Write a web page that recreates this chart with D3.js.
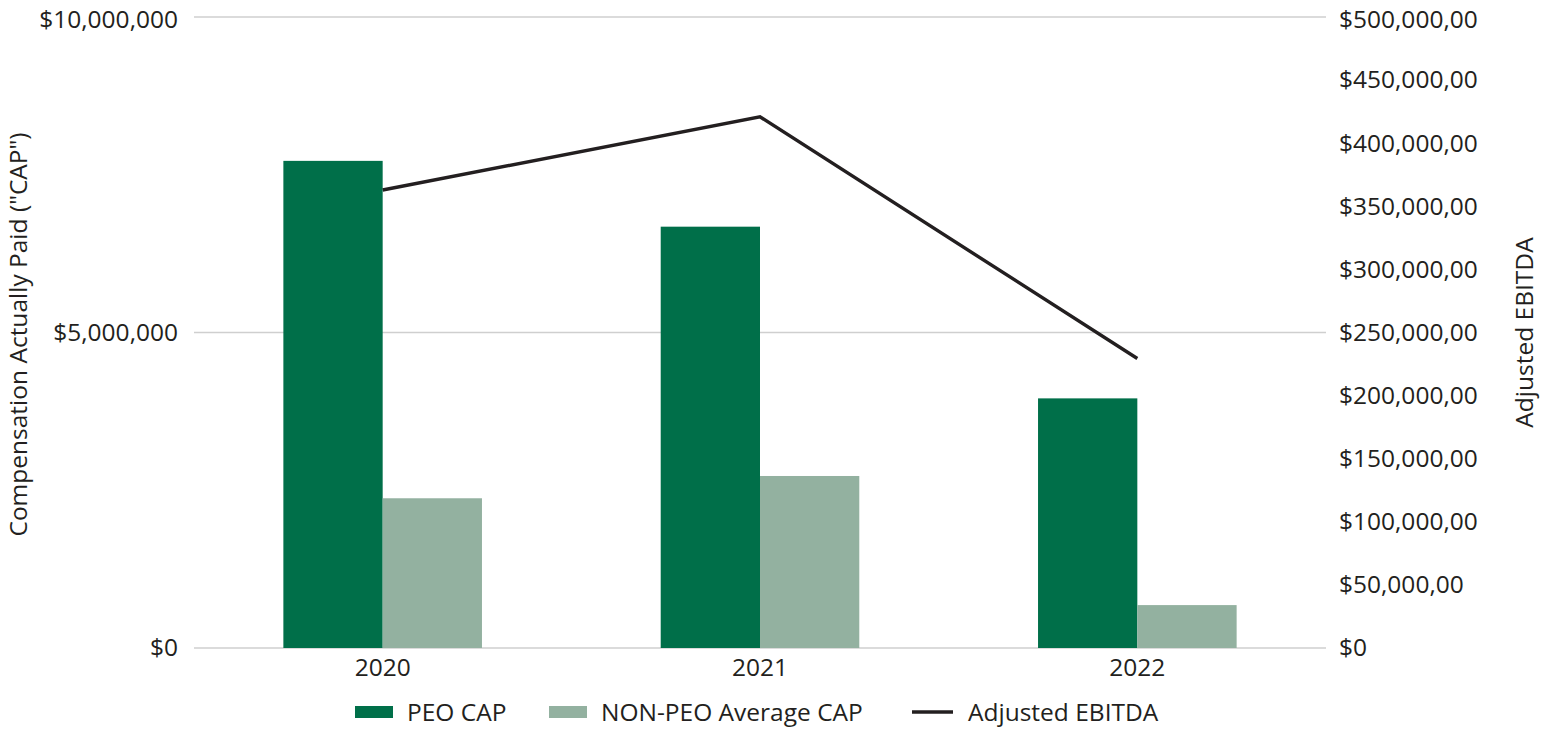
<!DOCTYPE html>
<html><head><meta charset="utf-8">
<script src="https://cdn.jsdelivr.net/npm/d3@7"></script>
<style>
html,body{margin:0;padding:0;background:#fff;}
text{font-family:"Open Sans",sans-serif;fill:#231f20;}
</style></head>
<body><svg id="c" width="1542" height="729"></svg>
<script>
const years = ["2020","2021","2022"];
const peoCap = [7720000, 6677000, 3956000];
const nonPeoCap = [2373000, 2726000, 680000];
const ebitda = [362900, 420900, 229400];
const leftTicks = [0, 5000000, 10000000];
const rightTicks = [0,50000,100000,150000,200000,250000,300000,350000,400000,450000,500000];
const seriesNames = ["PEO CAP","NON-PEO Average CAP","Adjusted EBITDA"];
const colors = ["#006f49","#93b1a0","#231f20"];

const svg = d3.select("#c");
const L = 194, R = 1326, T = 17, B = 648;
const x = d3.scaleBand().domain(years).range([L, R]).paddingInner(0).paddingOuter(0);
const inner = d3.scaleBand().domain([0,1]).range([0, x.bandwidth()]).paddingInner(0).paddingOuter(0.9);
const yL = d3.scaleLinear().domain([0, 10000000]).range([B, T]);
const yR = d3.scaleLinear().domain([0, 500000]).range([B, T]);
const fs = 24.5;

// gridlines
svg.append("g").selectAll("line").data(leftTicks).join("line")
  .attr("x1", L).attr("x2", R).attr("y1", d=>yL(d)).attr("y2", d=>yL(d))
  .attr("stroke", "#cfcfcf").attr("stroke-width", 1.5);

// left axis
const gl = svg.append("g").attr("transform", `translate(${L},0)`)
  .call(d3.axisLeft(yL).tickValues(leftTicks).tickSize(0).tickPadding(16)
    .tickFormat(d => "$" + d3.format(",")(d)));
gl.select(".domain").remove();
gl.selectAll("text").style("font-size", fs+"px").style("font-family","'Open Sans',sans-serif").attr("fill","#231f20");

// right axis
const gr = svg.append("g").attr("transform", `translate(${R},0)`)
  .call(d3.axisRight(yR).tickValues(rightTicks).tickSize(0).tickPadding(13)
    .tickFormat(d => d === 0 ? "$0" : "$" + d3.format(",")(d) + ",00"));
gr.select(".domain").remove();
gr.selectAll("text").style("font-size", fs+"px").style("font-family","'Open Sans',sans-serif").attr("fill","#231f20");
// keep top labels fully inside the page
gl.selectAll("text").filter(d => d === 10000000).attr("dy", "0.42em");
gr.selectAll("text").filter(d => d === 500000).attr("dy", "0.42em");

// bars
const groups = svg.append("g").selectAll("g").data(years).join("g")
  .attr("transform", d => `translate(${x(d)},0)`);
groups.append("rect").attr("x", inner(0)).attr("width", inner.bandwidth())
  .attr("y", (d,i)=>yL(peoCap[i])).attr("height", (d,i)=>B - yL(peoCap[i])).attr("fill", colors[0]);
groups.append("rect").attr("x", inner(1)).attr("width", inner.bandwidth())
  .attr("y", (d,i)=>yL(nonPeoCap[i])).attr("height", (d,i)=>B - yL(nonPeoCap[i])).attr("fill", colors[1]);

// line
const line = d3.line().x((d,i)=>x(years[i]) + x.bandwidth()/2).y(d=>yR(d));
svg.append("path").datum(ebitda).attr("d", line).attr("fill","none")
  .attr("stroke", colors[2]).attr("stroke-width", 3.4);

// x axis labels
const gx = svg.append("g").attr("transform", `translate(0,${B})`)
  .call(d3.axisBottom(x).tickSize(0).tickPadding(11));
gx.select(".domain").remove();
gx.selectAll("text").style("font-size", fs+"px").style("font-family","'Open Sans',sans-serif").attr("fill","#231f20");

// axis titles
svg.append("text").attr("transform", `translate(27,${(T+B)/2+2}) rotate(-90)`)
  .attr("text-anchor","middle").style("font-size", fs+"px").text('Compensation Actually Paid ("CAP")');
svg.append("text").attr("transform", `translate(1533,${(T+B)/2}) rotate(-90)`)
  .attr("text-anchor","middle").style("font-size", fs+"px").text("Adjusted EBITDA");

// legend
const leg = svg.append("g");
const lx = [355, 549, 912];
leg.append("rect").attr("x", lx[0]).attr("y", 706).attr("width", 38).attr("height", 12).attr("fill", colors[0]);
leg.append("rect").attr("x", lx[1]).attr("y", 706).attr("width", 38).attr("height", 12).attr("fill", colors[1]);
leg.append("line").attr("x1", lx[2]).attr("x2", lx[2]+41).attr("y1", 712).attr("y2", 712).attr("stroke", colors[2]).attr("stroke-width", 3.4);
const ltx = [407, 601, 968];
seriesNames.forEach((n,i)=>{
  leg.append("text").attr("x", ltx[i]).attr("y", 721).style("font-size", fs+"px").text(n);
});
</script></body></html>
